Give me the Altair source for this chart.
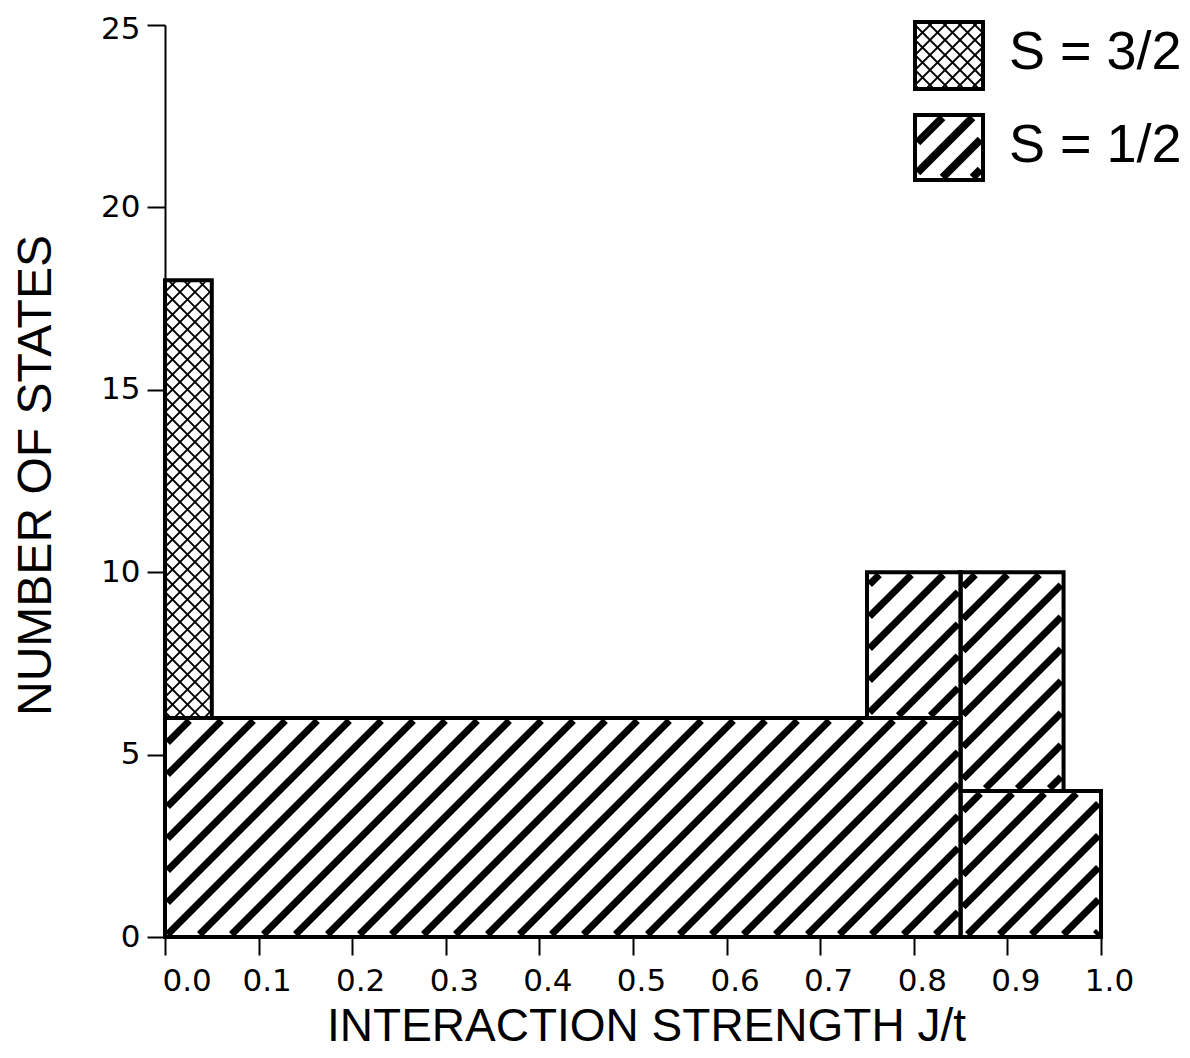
import math
import altair as alt
import pandas as pd

# ---------------- data ----------------
spin = ["S = 3/2", "S = 1/2", "S = 1/2", "S = 1/2", "S = 1/2"]
j_start = [0.00, 0.00, 0.75, 0.85, 0.85]
j_end = [0.05, 0.85, 0.85, 1.00, 0.96]
n_low = [6, 0, 6, 0, 4]
n_high = [18, 6, 10, 4, 10]

x_ticks = [0.0, 0.1, 0.2, 0.3, 0.4, 0.5, 0.6, 0.7, 0.8, 0.9, 1.0]
y_ticks = [0, 5, 10, 15, 20, 25]
legend_labels = ["S = 3/2", "S = 1/2"]

# ---------------- layout / style ----------------
W, H = 936, 912
X_DOM = [0.0, 1.0]
Y_DOM = [0, 25]
STRIPE_PERIOD = 32      # horizontal spacing of "/" hatch, px
CROSS_PERIOD = 15       # horizontal spacing of cross hatch, px
LEG_STRIPE_PERIOD = 30
FONT_T = "Liberation Sans"
FONT_N = "DejaVu Sans"


def hatch_lines(X0, X1, Y0, Y1, period, direction, inset=2.0):
    """Segments of parallel 45-degree lines clipped to a rectangle (pixel units, y up).
    direction=+1 -> '/', direction=-1 -> '\\'."""
    X0, X1, Y0, Y1 = X0 + inset, X1 - inset, Y0 + inset, Y1 - inset
    segs = []
    if direction == 1:  # Y = X - c
        k0 = math.ceil((X0 - Y1) / period)
        k1 = math.floor((X1 - Y0) / period)
        for k in range(k0, k1 + 1):
            c = k * period
            xs, xe = max(X0, Y0 + c), min(X1, Y1 + c)
            if xe - xs > 0.5:
                segs.append((xs, xs - c, xe, xe - c))
    else:  # Y = c - X
        k0 = math.ceil((X0 + Y0) / period)
        k1 = math.floor((X1 + Y1) / period)
        for k in range(k0, k1 + 1):
            c = k * period
            xs, xe = max(X0, c - Y1), min(X1, c - Y0)
            if xe - xs > 0.5:
                segs.append((xs, c - xs, xe, c - xe))
    return segs


bars = pd.DataFrame({"spin": spin, "j0": j_start, "j1": j_end, "n0": n_low, "n1": n_high})

# hatching of bars, derived from bar extents (converted to pixels for 45-degree lines, then back)
sx = W / (X_DOM[1] - X_DOM[0])
sy = H / (Y_DOM[1] - Y_DOM[0])
stripe_rows, cross_rows = [], []
for s, a, b, lo, hi in zip(spin, j_start, j_end, n_low, n_high):
    X0, X1, Y0, Y1 = a * sx, b * sx, lo * sy, hi * sy
    if s == legend_labels[0]:
        for d in (1, -1):
            for (xa, ya, xb, yb) in hatch_lines(X0, X1, Y0, Y1, CROSS_PERIOD, d, inset=1.5):
                cross_rows.append({"j0": xa / sx, "n0": ya / sy, "j1": xb / sx, "n1": yb / sy})
    else:
        for (xa, ya, xb, yb) in hatch_lines(X0, X1, Y0, Y1, STRIPE_PERIOD, 1, inset=2.5):
            stripe_rows.append({"j0": xa / sx, "n0": ya / sy, "j1": xb / sx, "n1": yb / sy})
stripes = pd.DataFrame(stripe_rows)
cross = pd.DataFrame(cross_rows)

# ---------------- legend (pixel layout inside the plot, y down) ----------------
leg_box = pd.DataFrame({
    "label": legend_labels,
    "px0": [750, 750], "px1": [818, 818],
    "py0": [-3, 90], "py1": [64, 155],
    "tx": [844, 844], "ty": [28, 121],
})
leg_cross, leg_stripe = [], []
for i, r in leg_box.iterrows():
    X0, X1, Y0, Y1 = r.px0, r.px1, -r.py1, -r.py0
    if i == 0:
        for d in (1, -1):
            for (xa, ya, xb, yb) in hatch_lines(X0, X1, Y0, Y1, CROSS_PERIOD, d, inset=1.5):
                leg_cross.append({"a": xa, "b": -ya, "c": xb, "d": -yb})
    else:
        for (xa, ya, xb, yb) in hatch_lines(X0, X1, Y0, Y1, LEG_STRIPE_PERIOD, 1, inset=2.5):
            leg_stripe.append({"a": xa, "b": -ya, "c": xb, "d": -yb})
leg_cross = pd.DataFrame(leg_cross)
leg_stripe = pd.DataFrame(leg_stripe)

# ---------------- encodings ----------------
x_scale = alt.Scale(domain=X_DOM, nice=False, zero=False)
y_scale = alt.Scale(domain=Y_DOM, nice=False)
x_axis = alt.Axis(
    values=x_ticks, format=".1f", title="INTERACTION STRENGTH J/t", grid=False,
    tickSize=18, tickWidth=2, tickColor="black", domainColor="black", domainWidth=2,
    labelFont=FONT_N, labelFontSize=31, labelColor="black", labelPadding=11,
    labelFlush=False, labelOverlap=False,
    labelAlign={"condition": {"test": "datum.value == 0", "value": "left"}, "value": "center"},
    labelOffset={"condition": {"test": "datum.value == 0", "value": -3}, "value": 8},
    titleFont=FONT_T, titleFontSize=46, titleFontWeight="normal", titleColor="black",
    titlePadding=8, titleX=W / 2 + 13,
)
y_axis = alt.Axis(
    values=y_ticks, format="d", title="NUMBER OF STATES", grid=False,
    tickSize=18, tickWidth=2, tickColor="black", domainColor="black", domainWidth=2,
    labelFont=FONT_N, labelFontSize=31, labelColor="black", labelPadding=7,
    labelFlush=False, labelOverlap=False,
    labelOffset={"condition": {"test": "datum.value == 25", "value": 4}, "value": 0},
    titleFont=FONT_T, titleFontSize=48, titleFontWeight="normal", titleColor="black",
    titlePadding=40, titleY=H / 2 - 6,
)


def X(f):
    return alt.X(f, type="quantitative", scale=x_scale, axis=x_axis)


def Y(f):
    return alt.Y(f, type="quantitative", scale=y_scale, axis=y_axis)


bar_fill = alt.Chart(bars).mark_rect(fill="white", strokeWidth=0).encode(
    x=X("j0"), x2="j1", y=Y("n0"), y2="n1")
stripe_layer = alt.Chart(stripes).mark_rule(color="black", strokeWidth=7, strokeCap="butt").encode(
    x=X("j0"), x2="j1", y=Y("n0"), y2="n1")
cross_layer = alt.Chart(cross).mark_rule(color="black", strokeWidth=1.8, strokeCap="butt").encode(
    x=X("j0"), x2="j1", y=Y("n0"), y2="n1")
bar_outline = alt.Chart(bars).mark_rect(fillOpacity=0, stroke="black", strokeWidth=4).encode(
    x=X("j0"), x2="j1", y=Y("n0"), y2="n1")

PX = dict(scale=None, axis=None)
leg_fill = alt.Chart(leg_box).mark_rect(fill="white", strokeWidth=0).encode(
    x=alt.X("px0:Q", **PX), x2="px1", y=alt.Y("py0:Q", **PX), y2="py1")
leg_cross_l = alt.Chart(leg_cross).mark_rule(color="black", strokeWidth=1.8).encode(
    x=alt.X("a:Q", **PX), x2="c", y=alt.Y("b:Q", **PX), y2="d")
leg_stripe_l = alt.Chart(leg_stripe).mark_rule(color="black", strokeWidth=8).encode(
    x=alt.X("a:Q", **PX), x2="c", y=alt.Y("b:Q", **PX), y2="d")
leg_outline = alt.Chart(leg_box).mark_rect(fillOpacity=0, stroke="black", strokeWidth=4).encode(
    x=alt.X("px0:Q", **PX), x2="px1", y=alt.Y("py0:Q", **PX), y2="py1")
leg_text = alt.Chart(leg_box).mark_text(
    font=FONT_T, fontSize=54, align="left", baseline="middle", color="black").encode(
    x=alt.X("tx:Q", **PX), y=alt.Y("ty:Q", **PX), text="label:N")

chart = alt.layer(
    bar_fill, stripe_layer, cross_layer, bar_outline,
    leg_fill, leg_cross_l, leg_stripe_l, leg_outline, leg_text,
).properties(
    width=W, height=H,
    autosize=alt.AutoSizeParams(type="none"),
    padding={"left": 157, "top": 17, "right": 81, "bottom": 113},
    background="white",
).configure_view(strokeWidth=0)

chart.save("out.html", embed_options={"renderer": "svg", "actions": False})
